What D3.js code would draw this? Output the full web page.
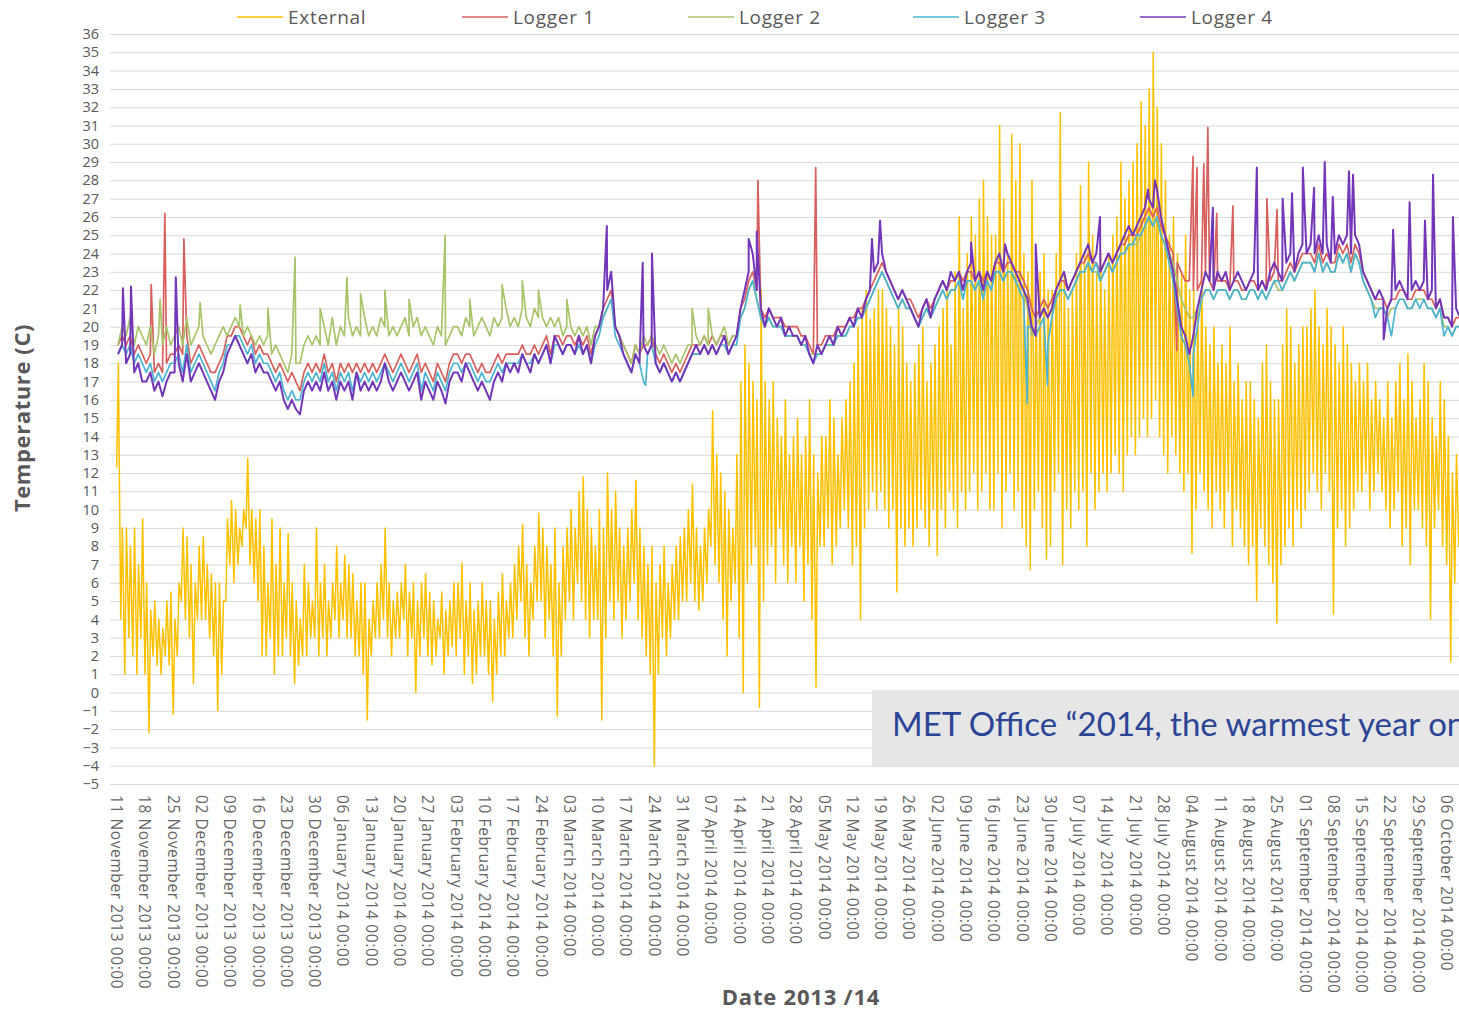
<!DOCTYPE html>
<html><head><meta charset="utf-8">
<script src="https://cdn.jsdelivr.net/npm/d3@7"></script>
<style>
body{margin:0;background:#fff;overflow:hidden}
svg{display:block}
</style>
</head><body>
<svg id="chart" width="1459" height="1013"></svg>
<script>
// ---------------- DATA ----------------
const startDate = "2013-11-11"; // first day of the daily arrays (one row = one week)
const seriesNames = ["External", "Logger 1", "Logger 2", "Logger 3", "Logger 4"];
const seriesColors = ["#FFC000", "#D9605C", "#A9C46A", "#4BB4D2", "#7436B8"];
const yTicks = d3.range(-5, 37);
const xTickDates = ["2013-11-11","2013-11-18","2013-11-25","2013-12-02","2013-12-09","2013-12-16","2013-12-23","2013-12-30",
  "2014-01-06","2014-01-13","2014-01-20","2014-01-27","2014-02-03","2014-02-10","2014-02-17","2014-02-24",
  "2014-03-03","2014-03-10","2014-03-17","2014-03-24","2014-03-31","2014-04-07","2014-04-14","2014-04-21","2014-04-28",
  "2014-05-05","2014-05-12","2014-05-19","2014-05-26","2014-06-02","2014-06-09","2014-06-16","2014-06-23","2014-06-30",
  "2014-07-07","2014-07-14","2014-07-21","2014-07-28","2014-08-04","2014-08-11","2014-08-18","2014-08-25",
  "2014-09-01","2014-09-08","2014-09-15","2014-09-22","2014-09-29","2014-10-06"];

// External: daily afternoon highs and early-morning lows
const externalHigh = [
 [18,9,9,8,9,7,9.5],[6,4.5,5,4,3.5,5,5.5],[4,6,9,8.5,7,6,8],[8.5,7,6.5,6,6,5,9.5],
 [10.5,10,9,10,12.8,10,9.5],[10,8,6,9.5,7,9,6],[8.7,6,5,4,7,6,5],[9,6,7,5,6,8,6],
 [7.5,7,6.5,5,6,6,4],[5,6,7,9,6,5,5.5],[6,7,5.5,6,5,6,6.5],[5.5,5,4,5.5,4.5,5,6],
 [6,7.1,5,6,4.5,5,6],[5,5,4,5.5,6.5,5,6],[7,8,9.2,7,6,8,9.8],[9,8,7,9,6,8,9],
 [10,9,11,11.8,10,9,8],[10,9,12,10,11,9,8],[9,10,11.6,9,8,7,8],[6,7,8,6,7,8,8.5],
 [9,10,11.4,9,8,9,10],[15.4,13,12,11,10,9,13],[17,19,18,17,16,22,17],[16,17,15,14,16,13,14],
 [15,13,14,16,13,12,14],[14,16,15,13,15,16,17],[18,20,21,22,20.4,21,22],[22,21,20,19,21,20,18],
 [17,18,19,20,17,18,19],[20,21,22,19,23,26,21],[24,26,25,27,28,26,25],[25,31,27,24,30.5,28,30],
 [24,23,28,22,23,24,22],[22,24,31.7,23,21,22,24],[27.7,24,29,25,23,24,22],[24,25,26,29,27,28,29],
 [30,32.3,31,33,35,32,30],[28,25,26,24,23,25,22],[22,21,23,20,19,20,18],[19,18,20,17,18,16,17],
 [17,16,15,18,19,17,16],[16,19,21,20,18,19,20],[20,21,22,20,19,21,20],[19,18,20,19,18,17,18],
 [17,18,16,17,16,15,17],[15,17,18,16,18.5,17,15],[16,18,17,15,14,17,16],[14,12,13,11]
].flat();
const externalLow = [
 [12.3,4,1,3,2,1,3],[1,-2.2,2,1.5,1,2,1.5],[-1.2,2,5,4,3,0.5,4],[4,4,3,2,-1,1,5],
 [7,6,7,8,9,7,6],[5,2,2,3,1,2,2],[3,2,0.5,1.5,2,2,3],[3,2,3,2,3,4,3],
 [4,3,3,2,2,1,-1.5],[2,3,3,4,3,2,3],[3,4,2,3,0,2,3],[2,1.5,2,3,1,2,2.5],
 [2,3,1,2,0.5,1,2],[2,1,-0.5,1,2,2,3],[3,4,5,3,2,4,5],[5,3,4,2,-1.3,2,4],
 [5,4,6,5,4,3,4],[4,-1.5,3,5,4,5,3],[4,5,6,4,3,2,1],[-4,1,3,2,3,4,4],
 [5,5,6,5,4.5,5,6],[8,7,6,4,2,5,6],[3,0,6,7,8,-0.8,5],[7,8,6,9,7,6,8],
 [6,8,5,7,4,0.3,8],[8,9,7,8,9,10,9],[7,8,4,9,10,11,10],[11,10,9,10,5.5,9,8],
 [9,8,9,10,9,8,10],[7.5,10,9,11,10,9,11],[10,11,12,10,11,12,10],[10,12,9,11,12,10,11],
 [9,8,6.7,10,11,9,7.3],[8,11,12,7,10,9,11],[10,11,8,12,10,11,12],[11,12,13,12,11,13,14],
 [13,14,15,14,15,16,14],[13,12,14,13,12,11,12],[7.6,10,12,11,10,9,11],[10,9,11,8,10,9,8],
 [7,8,5,9,8,7,6],[3.8,7,8,9,8,10,9],[10,11,12,11,10,12,11],[4.3,9,10,8,9,10,11],
 [11,12,10,11,12,11,10],[9,10,11,8,9,7,10],[10,9,8,4,9,10,8],[7,1.7,6,8]
].flat();

const logger1 = [
 [19,19.5,19,19.5,18.5,19,18.5],[18,18.5,17.5,18,17.5,18,18.5],[18.5,19,18.5,19.5,18,18.5,19],[18.5,18,17.5,17.5,18,18.5,19.5],
 [19.5,20,20,19.5,19,19.5,18.5],[19,18.5,18.5,18,17.5,18,17.5],[17,17.5,17,16.5,17.5,18,17.5],[18,17.5,18.5,17.5,18,17,18],
 [17.5,18,17.5,18,17.5,18,17.5],[18,17.5,18,18.5,18,17.5,18],[18.5,18,17.5,18,18.5,17.5,18],[17.5,17,18,17.5,17,18,18.5],
 [18.5,18,18.5,18.5,18,17.5,18],[17.5,17.5,18,18.5,18,18.5,18.5],[18.5,18.5,19,18.5,18.5,19,18.5],[19,19.5,18.5,19.5,19.5,19,19.5],
 [19.5,19,19.5,19,19.5,18.5,19.5],[20,21,21.5,22,20,19.5,19],[18.5,18,19,18.5,19,19,19.5],[18.5,18,18.5,18,17.5,18,17.5],
 [18,18.5,19,19,19,19.5,19],[19.5,19,19.5,19.5,19,19.5,19.5],[21,21.5,22.5,23,22,21,20.5],[21,20.5,20.5,20.5,20,20,20],
 [20,19.5,19.5,19,18.5,19,19],[19.5,19.5,19.5,20,20,20,20.5],[20.5,21,21,21.5,22,22.5,23],[23.5,23,22.5,22,21.5,22,21.5],
 [21.5,21,20.5,21,21.5,21,21.5],[22,22.5,22,22.5,22.5,23,22.5],[23,23,22.5,23,22.5,23,22.5],[23.5,23.5,23,23.5,23.5,23,23],
 [22.5,22,21,20.5,21,21.5,21],[21.5,22,22.5,22.5,22,22.5,23],[23.5,23.5,24,23.5,23.5,23,23.5],[24,23.5,24,24.5,24.5,25,25],
 [25,25.5,26,26.5,26,26.5,25.5],[25,24.5,24,23.5,23,22.5,22.5],[22,22,22.5,23,22.5,22,22.5],[22.5,22.5,22,22.5,22.5,22,22],
 [22.5,22.5,22,22.5,22,22.5,23],[22.5,22.5,23,23.5,23,23.5,24],[24,24,23.5,24.5,23.5,24,23.5],[23.5,24.5,24,24.5,23.5,24.5,24],
 [23,22.5,22,21.5,21.5,21.5,21],[21.5,21.5,22,22,21.5,21.5,22],[22,22,21.5,21.5,21,21.5,20.5],[20.5,20,20.5,20.5]
].flat();
const logger2 = [
 [19,20,19.5,20.5,19,20,19.5],[19,20,18.5,19.5,19,20,19],[19.5,20,19,20.5,19,19.5,20],[19.5,19,18.5,19,19.5,20,19.5],
 [20,20.5,20,19.5,20,19.5,19],[19.5,19,19.5,18.5,19,18.5,18],[17.5,18.5,18,18,19,19.5,19],[19.5,19,20,19,20.5,19,20],
 [19.5,20.5,19.5,20,19.5,20.5,19.5],[20,19.5,20.5,20,19.5,20,19.5],[20,20.5,19.5,20,20.5,19.5,20],[19.5,19,20,19.5,19,19.5,20],
 [20,19.5,20.5,20,19.5,20,20.5],[20,19.5,20.5,20,20.5,21,20],[20.5,20,21,20.5,20,21,20.5],[20.5,20,20.5,20,20.5,19.5,20],
 [20,19.5,20,19.5,20,19,20],[20,20.5,21,21.5,20,19.5,19],[18.5,18,19,18.5,19.5,19,19.5],[19,18.5,19,18.5,18,18.5,18],
 [18.5,19,19,19.5,19,19.5,19],[19.5,19,19.5,20,19,19.5,19.5],[20.5,21,22,22.5,21.5,20.5,20],[20.5,20,20,20,19.5,19.5,19.5],
 [19.5,19,19,18.5,18.5,18.5,18.5],[19,19,19,19.5,19.5,19.5,20],[20,20.5,20.5,21,21.5,22,22.5],[23,22.5,22,21.5,21,21.5,21],
 [21,20.5,20,20.5,21,20.5,21],[21.5,22,21.5,22,22,22.5,22],[22.5,22.5,22,22.5,22,22.5,22],[23,23,22.5,23,23,22.5,22.5],
 [22,21,19.5,20,20.5,21,20.5],[21,21.5,22,22,21.5,22,22.5],[23,23,23.5,23,23,22.5,23],[23.5,23,23.5,24,24,24.5,24.5],
 [24.5,25,25.5,26,25.5,26,25],[24.5,24,23.5,22.5,21.5,21,20.5],[20.5,21,21.5,22,22,21.5,22],[22,22,21.5,22,22,21.5,21.5],
 [22,22,21.5,22,21.5,22,22.5],[22,22,22.5,23,22.5,23,23.5],[23.5,23.5,23,24,23,23.5,23],[23,24,23.5,24,23,24,23.5],
 [22.5,22,21.5,21,21,21,20.5],[21,21,21.5,21.5,21,21,21.5],[21.5,21.5,21,21,20.5,21,20],[20,19.5,20,20]
].flat();
const logger3 = [
 [18.5,19,18.5,19,18,18.5,18],[17.5,18,17,17.5,17,17.5,18],[18,18.5,17.5,19,17.5,18,18.5],[18,17.5,17,16.5,17.5,18,19],
 [19,19.5,19.5,19,18.5,19,18],[18.5,18,18,17.5,17,17.5,16.5],[16,16.5,16,16,17,17.5,17],[17.5,17,18,17,17.5,16.5,17.5],
 [17,17.5,16.5,17.5,17,17.5,17],[17.5,17,17.5,18,17.5,17,17.5],[18,17.5,17,17.5,18,16.5,17.5],[17,16.5,17.5,17,16.5,17.5,18],
 [18,17.5,18,18,17.5,17,17.5],[17,17,17.5,18,17.5,18,18],[18,18,18.5,18,18,18.5,18],[18.5,19,18,19,19,18.5,19],
 [19,18.5,19,18.5,19,18,19],[19.5,20.5,21,21.5,19.5,19,18.5],[18,17.5,18.5,18,17,18.5,19],[18,17.5,18,17.5,17,17.5,17],
 [17.5,18,18.5,18.5,18.5,19,18.5],[19,18.5,19,19,18.5,19,19],[20.5,21,22,22.5,21.5,20.5,20],[20.5,20,20,20,19.5,19.5,19.5],
 [19.5,19,19,18.5,18,18.5,18.5],[19,19,19,19.5,19.5,19.5,20],[20,20.5,20.5,21,21.5,22,22.5],[23,22.5,22,21.5,21,21.5,21],
 [21,20.5,20,20.5,21,20.5,21],[21.5,22,21.5,22,22,22.5,21.5],[22.5,22.5,22,22.5,21.5,22.5,22],[23,23,22.5,23,23,22.5,22],
 [21.5,20,20,19.5,20,20.5,19],[20.5,21.5,22,22,21.5,22,22.5],[23,23,23.5,23,23.5,22.5,23],[23.5,23,23.5,24,24,24.5,24.5],
 [25,25,25.5,26,25.5,26,25],[24.5,23.5,22.5,21,19.5,19,18],[18.5,20,21.5,22,22,21.5,22],[22,22,21.5,22,22,21.5,21.5],
 [22,22,21.5,22,21.5,22,22.5],[22.5,22,22.5,23,22.5,23,23.5],[23.5,23.5,23,24,23,23.5,23],[23,24,23.5,24,23,24,23.5],
 [22.5,22,21.5,20.5,21,21,20.5],[19.5,21,21.5,21.5,21,21,21.5],[21,21.5,21,21,20.5,21,19.5],[20,19.5,20,20]
].flat();
const logger4 = [
 [18.5,19,18,18.5,17.5,18,17],[17,17.5,16.5,17,16.2,17,17.5],[17.5,18,17,18.5,17,17.5,18],[17.5,17,16.5,16,17,17.5,18.5],
 [19,19.5,19,18.5,18,18.5,17.5],[18,17.5,17.5,17,16.5,17,16],[15.5,16,15.5,15.2,16.5,17,16.5],[17,16.5,17.5,16.5,17,16,17],
 [16.5,17,16,17.5,16.5,17,16.5],[17,16.5,17,18,17,16.5,17],[17.5,17,16.5,17,17.5,16,17],[16.5,16,17,16.5,15.8,17,17.5],
 [17.5,17,18,17.5,17,16.5,17],[16.5,16,17,17.5,17,18,17.5],[18,17.5,18.5,18,17.5,18.5,18],[18.5,19,18,19.5,19,18.5,19],
 [19,18.5,19.5,18.5,19,18,19.5],[20,21,22,23,20,19.5,18.5],[18,17.5,18.5,18,19,18.5,19],[18,17.5,18,17.5,17,17.5,17],
 [17.5,18,18.5,19,18.5,19,18.5],[19,18.5,19,19.5,18.5,19,19.5],[21,22,23,24,22,21,20],[21,20.5,20,20.5,19.5,20,19.5],
 [19.5,19,19.5,18.5,18,19,18.5],[19,19.5,19,20,19.5,20,20.5],[20,21,20.5,21.5,22,23,23.5],[24,23,22.5,22,21.5,22,21.5],
 [21,20.5,20,21,21.5,20.5,21.5],[22,22.5,22,23,22.5,23,22],[23,23.5,22.5,23,22,23,22.5],[23.5,24,23,24,23.5,23,22.5],
 [22,21.5,20,19.5,20.5,21,20.5],[21,22,22.5,23,22,22.5,23],[23.5,24,24.5,23.5,24,23,23.5],[24,23.5,24,24.5,25,25.5,25],
 [25.5,26,26.5,27,26.5,27.5,26],[25,24,23,21.5,20,19.5,18.5],[19.5,21,22,23,22.5,22,23],[22.5,23,22,22.5,23,22.5,22],
 [22.5,23,22,22.5,22,23,23.5],[23,22.5,23.5,24,23,24,24.5],[24,24.5,24,25,24,24.5,23.5],[24,25,24.5,25,24,25,24.5],
 [23,22.5,22,21.5,22,21.5,21],[21.5,22,22.5,22,21.5,22,22.5],[22,22.5,21.5,22,21,21.5,20.5],[20.5,20,21,20.5]
].flat();

// Short-lived readings (spikes / drops) seen on the loggers
const logger1Spikes = [["2013-11-19T17:00",22.3],["2013-11-23T02:00",26.2],["2013-11-27T19:00",24.8],
 ["2014-04-18T19:00",28.0],["2014-05-03T02:00",28.7],["2014-07-31T10:00",18.7],
 ["2014-08-04T10:00",29.3],["2014-08-05T10:00",28.7],["2014-08-07T02:00",28.9],["2014-08-08T02:00",30.9],
 ["2014-08-10T07:00",26.2],["2014-08-14T07:00",26.6],["2014-08-22T17:00",27.0],["2014-08-25T05:00",26.4]];
const logger2Spikes = [["2013-11-21T22:00",21.5],["2013-12-01T19:00",21.3],["2013-12-11T17:00",21.2],["2013-12-18T14:00",21.0],
 ["2013-12-25T07:00",23.8],["2013-12-31T12:00",21.0],["2014-01-07T03:00",22.7],["2014-01-10T12:00",21.8],
 ["2014-01-16T12:00",22.0],["2014-01-22T12:00",21.5],["2014-01-31T10:00",25.0],["2014-02-06T12:00",21.5],
 ["2014-02-14T12:00",22.3],["2014-02-19T12:00",22.5],["2014-02-23T12:00",22.0],["2014-03-02T12:00",21.5],
 ["2014-04-02T12:00",21.0],["2014-04-06T12:00",21.0]];
const logger3Spikes = [["2014-03-22T00:00",16.8],["2014-06-24T10:00",15.8],["2014-06-29T10:00",16.8],["2014-08-04T10:00",16.2]];
const logger4Spikes = [["2013-11-12T17:00",22.1],["2013-11-14T17:00",22.2],["2013-11-25T19:00",22.7],
 ["2014-03-12T10:00",25.5],["2014-03-21T07:00",23.5],["2014-03-23T14:00",24.0],["2014-04-16T12:00",24.8],["2014-04-18T12:00",25.2],
 ["2014-05-17T00:00",24.8],["2014-05-19T00:00",25.8],["2014-06-10T12:00",24.6],["2014-06-18T22:00",24.5],["2014-06-26T12:00",24.5],
 ["2014-07-12T10:00",26.0],["2014-07-24T07:00",27.5],["2014-07-26T00:00",28.0],["2014-08-09T08:00",26.5],
 ["2014-08-20T05:00",28.7],["2014-08-26T14:00",27.0],["2014-08-28T22:00",27.3],["2014-08-31T14:00",28.7],
 ["2014-09-03T09:00",27.6],["2014-09-06T00:00",29.0],["2014-09-08T00:00",27.1],["2014-09-12T00:00",28.5],
 ["2014-09-13T00:00",28.3],["2014-09-20T14:00",19.3],["2014-09-22T22:00",25.3],["2014-09-27T00:00",26.8],
 ["2014-09-30T19:00",25.8],["2014-10-02T19:00",28.3],["2014-10-07T17:00",26.0]];

const noteText = "MET Office “2014, the warmest year on record”";

// ---------------- BUILD ----------------
const parseT = d3.utcParse("%Y-%m-%dT%H:%M");
const parseD = d3.utcParse("%Y-%m-%d");
const day0 = parseD(startDate);

function daily(vals, hour, spikes) {
  const pts = vals.map((v, i) => ({t: d3.utcHour.offset(day0, i * 24 + hour), v}));
  (spikes || []).forEach(([s, v]) => pts.push({t: parseT(s), v}));
  return pts.sort((a, b) => a.t - b.t);
}
const externalPts = daily(externalLow, 4).concat(daily(externalHigh, 14)).sort((a, b) => a.t - b.t);
const allSeries = [
  externalPts,
  daily(logger1, 12, logger1Spikes),
  daily(logger2, 12, logger2Spikes),
  daily(logger3, 12, logger3Spikes),
  daily(logger4, 12, logger4Spikes)
];
const strokeW = [1.5, 1.7, 1.7, 1.7, 2.0];

const svg = d3.select("#chart");
const W = 1459;
const x = d3.scaleUtc().domain([parseD("2013-11-11"), parseD("2014-10-06")]).range([116, 1446]);
const y = d3.scaleLinear().domain([-5, 36]).range([784, 34]);
const plotLeft = 110;
const FONT = "'Open Sans', sans-serif";

// gridlines + y labels
const yAxis = svg.append("g").attr("transform", `translate(${plotLeft},0)`)
  .call(d3.axisLeft(y).tickValues(yTicks).tickFormat(d3.format("d")).tickSize(-(W - plotLeft)).tickPadding(11));
yAxis.select(".domain").remove();
yAxis.selectAll(".tick line").attr("stroke", "#d9d9d9").attr("stroke-width", 1);
yAxis.selectAll(".tick text").attr("fill", "#595959").style("font-family", FONT).style("font-size", "14.5px");

// x axis labels
const xAxis = svg.append("g").attr("transform", `translate(0,${y(-5)})`)
  .call(d3.axisBottom(x).tickValues(xTickDates.map(parseD)).tickFormat(d3.utcFormat("%d %B %Y %H:%M")).tickSize(0));
xAxis.select(".domain").remove();
xAxis.selectAll(".tick text")
  .attr("transform", "rotate(90)").attr("text-anchor", "start")
  .attr("x", 11).attr("y", 0).attr("dy", "0.35em")
  .attr("fill", "#666").style("font-family", FONT).style("font-size", "15.5px").style("letter-spacing", "0.6px");

// series
const line = d3.line().x(d => x(d.t)).y(d => y(d.v));
svg.append("defs").append("clipPath").attr("id", "clip")
  .append("rect").attr("x", plotLeft).attr("y", 20).attr("width", W - plotLeft).attr("height", 770);
const gSeries = svg.append("g").attr("clip-path", "url(#clip)");
allSeries.forEach((pts, i) => {
  gSeries.append("path").datum(pts).attr("d", line)
    .attr("fill", "none").attr("stroke", seriesColors[i])
    .attr("stroke-width", strokeW[i]).attr("stroke-linejoin", "round");
});

// legend
const legendX = [237, 462, 688, 913, 1140];
const lg = svg.append("g");
seriesNames.forEach((n, i) => {
  lg.append("line").attr("x1", legendX[i]).attr("x2", legendX[i] + 46).attr("y1", 17).attr("y2", 17)
    .attr("stroke", seriesColors[i]).attr("stroke-width", 1.5);
  lg.append("text").attr("x", legendX[i] + 51).attr("y", 17).attr("dy", "0.35em")
    .attr("fill", "#595959").style("font-family", FONT).style("font-size", "19px").style("letter-spacing", "0.7px").text(n);
});

// axis titles
svg.append("text").attr("transform", "translate(30,418) rotate(-90)").attr("text-anchor", "middle")
  .attr("fill", "#595959").style("font-family", FONT).style("font-size", "22px").style("font-weight", "bold")
  .style("letter-spacing", "0.6px").text("Temperature (C)");
svg.append("text").attr("x", 801).attr("y", 1005).attr("text-anchor", "middle")
  .attr("fill", "#595959").style("font-family", FONT).style("font-size", "22px").style("font-weight", "bold")
  .style("letter-spacing", "0.8px").text("Date 2013 /14");

// note box
svg.append("rect").attr("x", 872).attr("y", 690).attr("width", 700).attr("height", 76).attr("fill", "#e6e6e6");
svg.append("text").attr("x", 892).attr("y", 736).attr("fill", "#2B4596")
  .style("font-family", "Lato, sans-serif").style("font-size", "33px").text(noteText);
</script>
</body></html>
